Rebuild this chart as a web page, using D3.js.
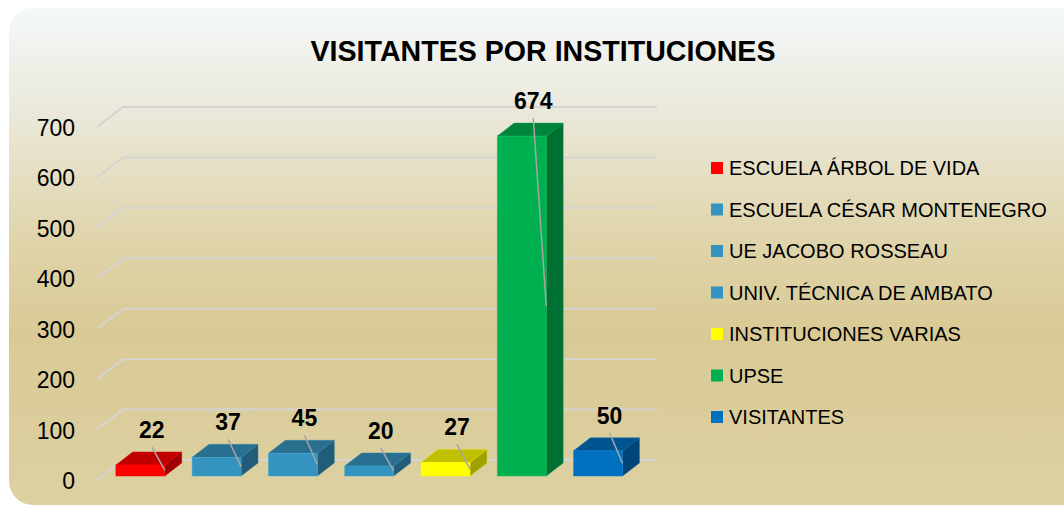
<!DOCTYPE html>
<html>
<head>
<meta charset="utf-8">
<script src="https://cdn.jsdelivr.net/npm/d3@7"></script>
<style>
  html, body { margin: 0; padding: 0; background: #fff; }
  svg { display: block; }
  text { font-family: "Liberation Sans", Arial, sans-serif; fill: #000; }
</style>
</head>
<body>
<svg id="chart" width="1064" height="506"></svg>
<script>
const categories = [
  "ESCUELA ÁRBOL DE VIDA",
  "ESCUELA CÉSAR MONTENEGRO",
  "UE JACOBO ROSSEAU",
  "UNIV. TÉCNICA DE AMBATO",
  "INSTITUCIONES VARIAS",
  "UPSE",
  "VISITANTES"
];
const visitors = [22, 37, 45, 20, 27, 674, 50];
const ticks = [0, 100, 200, 300, 400, 500, 600, 700];
const title = "VISITANTES POR INSTITUCIONES";

const palette = ["#ff0000", "#3593bf", "#3593bf", "#3593bf", "#ffff00", "#00b050", "#0070c0"];

const W = 1064, H = 506;
// oblique 3d: full floor depth
const DX = 26, DY = -20;
const Z0 = 0.2, Z1 = 0.85;

const svg = d3.select("#chart");

const defs = svg.append("defs");
const grad = defs.append("linearGradient")
  .attr("id", "bg").attr("x1", 0).attr("y1", 0).attr("x2", 0).attr("y2", 1);
[[0, "#f3f8f9"], [0.2, "#ebe9dc"], [0.45, "#e0d5ad"], [0.65, "#d9ca95"], [1, "#ddd1a2"]]
  .forEach(([o, c]) => grad.append("stop").attr("offset", o).attr("stop-color", c));

svg.append("rect")
  .attr("x", 9).attr("y", 8)
  .attr("width", W + 40).attr("height", H - 9)
  .attr("rx", 24)
  .attr("fill", "url(#bg)");

svg.append("text")
  .attr("x", 543).attr("y", 61)
  .attr("text-anchor", "middle")
  .attr("font-size", 28.6).attr("font-weight", "bold")
  .text(title);

const x = d3.scaleBand()
  .domain(categories)
  .range([97, 631])
  .paddingInner(0.358)
  .paddingOuter(0.179);

const y = d3.scaleLinear().domain([0, 700]).range([480, 127]);

// gridlines: diagonal on the side wall then flat along the back wall
const grid = svg.append("g")
  .attr("fill", "none")
  .attr("stroke", "#d4d4d4")
  .attr("stroke-width", 2);

grid.selectAll("path")
  .data(ticks)
  .join("path")
  .attr("d", (t) => `M${x.range()[0]},${y(t)}l${DX},${DY}H657`);

svg.append("g")
  .selectAll("text")
  .data(ticks)
  .join("text")
  .attr("x", 75)
  .attr("y", (t) => y(t) + 1)
  .attr("dy", "0.35em")
  .attr("text-anchor", "end")
  .attr("font-size", 23)
  .text((t) => t);

const bars = visitors.map((v, i) => {
  const x0 = x(categories[i]) + Z0 * DX;
  const w = x.bandwidth();
  const top = y(v) + Z0 * DY;
  const bottom = y(0) + Z0 * DY;
  const ddx = (Z1 - Z0) * DX, ddy = (Z1 - Z0) * DY;
  return { v, i, x0, w, top, bottom, ddx, ddy, color: palette[i] };
});

const barG = svg.append("g")
  .selectAll("g")
  .data(bars)
  .join("g");

barG.append("path")
  .attr("d", (b) => `M${b.x0 + b.w},${b.top}l${b.ddx},${b.ddy}V${b.bottom + b.ddy}l${-b.ddx},${-b.ddy}Z`)
  .attr("fill", (b) => d3.color(b.color).darker(1.3))
  .attr("stroke", (b) => d3.color(b.color).darker(0.6))
  .attr("stroke-opacity", 0.5)
  .attr("stroke-width", 0.8);

barG.append("path")
  .attr("d", (b) => `M${b.x0},${b.top}h${b.w}l${b.ddx},${b.ddy}h${-b.w}Z`)
  .attr("fill", (b) => d3.color(b.color).darker(0.8))
  .attr("stroke", (b) => d3.color(b.color).darker(0.3))
  .attr("stroke-opacity", 0.5)
  .attr("stroke-width", 0.8);

barG.append("rect")
  .attr("x", (b) => b.x0)
  .attr("y", (b) => b.top)
  .attr("width", (b) => b.w)
  .attr("height", (b) => b.bottom - b.top)
  .attr("fill", (b) => b.color)
  .attr("stroke", (b) => d3.color(b.color).brighter(0.4))
  .attr("stroke-opacity", 0.6)
  .attr("stroke-width", 0.8);

// data labels with leader lines to the front face
const labelX = (b) => b.x0 + b.w - 13;
const labelY = (b) => b.top - 27;

svg.append("g")
  .selectAll("line")
  .data(bars)
  .join("line")
  .attr("x1", labelX)
  .attr("y1", (b) => labelY(b) + 9)
  .attr("x2", (b) => b.x0 + b.w)
  .attr("y2", (b) => (b.top + b.bottom) / 2)
  .attr("stroke", "#a6a6a6")
  .attr("stroke-width", 1.5);

svg.append("g")
  .selectAll("text")
  .data(bars)
  .join("text")
  .attr("x", labelX)
  .attr("y", labelY)
  .attr("text-anchor", "middle")
  .attr("font-size", 23)
  .attr("font-weight", "bold")
  .text((b) => b.v);

// legend
const legend = svg.append("g")
  .selectAll("g")
  .data(categories)
  .join("g")
  .attr("transform", (d, i) => `translate(711,${168 + i * 41.5})`);

legend.append("rect")
  .attr("x", 0).attr("y", -6)
  .attr("width", 12).attr("height", 12)
  .attr("fill", (d, i) => palette[i]);

legend.append("text")
  .attr("x", 18)
  .attr("dy", "0.36em")
  .attr("font-size", 20)
  .text((d) => d);
</script>
</body>
</html>
